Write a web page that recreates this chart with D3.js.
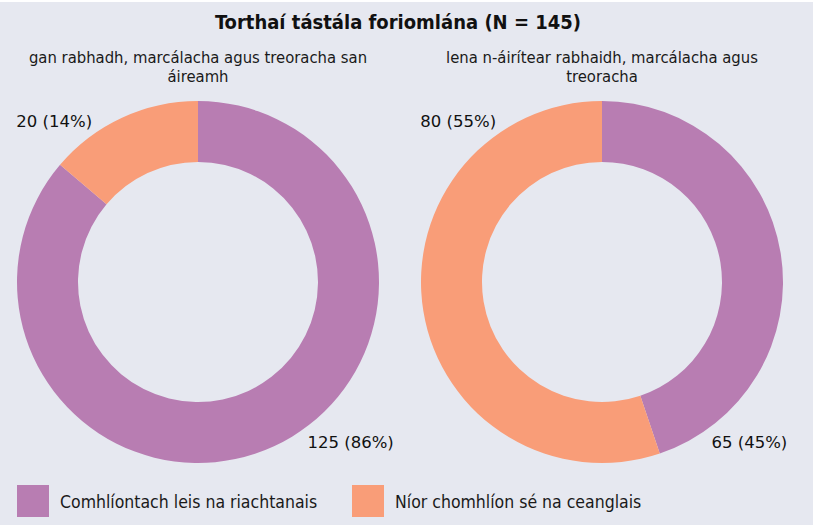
<!DOCTYPE html>
<html>
<head>
<meta charset="utf-8">
<script src="https://cdn.jsdelivr.net/npm/d3@7"></script>
<style>
  body { margin: 0; background: #ffffff; }
  svg { display: block; }
</style>
</head>
<body>
<svg id="mainsvg" width="813" height="525"></svg>
<script>
// data
const categories = ['Comhlíontach leis na riachtanais', 'Níor chomhlíon sé na ceanglais'];
const panelTitles = [
    ['gan rabhadh, marcálacha agus treoracha san', 'áireamh'],
    ['lena n-áirítear rabhaidh, marcálacha agus', 'treoracha']
];
const valuesWithout = [125, 20];
const valuesWith = [65, 80];
const chartTitle = 'Torthaí tástála foriomlána (N = 145)';

const colors = ['#b87db2', '#f99d78'];
const condFont = '"Liberation Sans Narrow", "DejaVu Sans Condensed", "Roboto", sans-serif';
const labelFont = '"DejaVu Sans", sans-serif';

const svg = d3.select('#mainsvg');
const width = +svg.attr('width');
const height = +svg.attr('height');

svg.append('rect')
    .attr('x', 0).attr('y', 2)
    .attr('width', width).attr('height', height - 2)
    .attr('fill', '#e6e8f0');

svg.append('text')
    .attr('x', 398).attr('y', 29)
    .attr('text-anchor', 'middle')
    .attr('font-family', condFont)
    .attr('font-size', '20px')
    .attr('font-weight', 'bold')
    .attr('fill', '#111')
    .text(chartTitle);

const color = d3.scaleOrdinal().domain(categories).range(colors);
const outerR = 181, innerR = 120;
const centers = d3.scalePoint().domain([0, 1]).range([198, 602]);
const cy = 282;

const pie = d3.pie().sort(null).value(d => d.value);
const arc = d3.arc().innerRadius(innerR).outerRadius(outerR);

[valuesWithout, valuesWith].forEach((vals, i) => {
    const total = d3.sum(vals);
    const data = vals.map((v, k) => ({ cat: categories[k], value: v }));
    const cx = centers(i);

    // panel subtitle
    const sub = svg.append('text')
        .attr('text-anchor', 'middle')
        .attr('font-family', condFont)
        .attr('font-size', '16.5px')
        .attr('fill', '#1a1a1a');
    panelTitles[i].forEach((line, j) => {
        sub.append('tspan').attr('x', cx).attr('y', 63 + j * 19).text(line);
    });

    const g = svg.append('g').attr('transform', `translate(${cx}, ${cy})`);
    const arcs = pie(data);
    g.selectAll('path').data(arcs).join('path')
        .attr('d', arc)
        .attr('fill', d => color(d.data.cat));

    // slice labels: left-hand slice top-left, right-hand slice bottom-right
    g.selectAll('.lbl').data(arcs).join('text')
        .attr('class', 'lbl')
        .attr('font-family', labelFont)
        .attr('font-size', '16.5px')
        .attr('fill', '#111')
        .attr('dy', '0.35em')
        .each(function(d) {
            const left = arc.centroid(d)[0] < 0;
            d3.select(this)
                .attr('text-anchor', left ? 'end' : 'start')
                .attr('x', (left ? -0.585 : 0.605) * outerR)
                .attr('y', (left ? -0.89 : 0.885) * outerR);
        })
        .text(d => `${d.data.value} (${Math.round(d.data.value / total * 100)}%)`);
});

// legend
const legendX = d3.scaleOrdinal().domain(categories).range([17, 352]);
const lg = svg.append('g');
const items = lg.selectAll('g').data(categories).join('g')
    .attr('transform', d => `translate(${legendX(d)}, 485)`);
items.append('rect')
    .attr('width', 32).attr('height', 32)
    .attr('fill', d => color(d));
items.append('text')
    .attr('x', 43).attr('y', 17)
    .attr('dy', '0.35em')
    .attr('font-family', condFont)
    .attr('font-size', '17.5px')
    .attr('fill', '#1a1a1a')
    .text(d => d);
</script>
</body>
</html>
